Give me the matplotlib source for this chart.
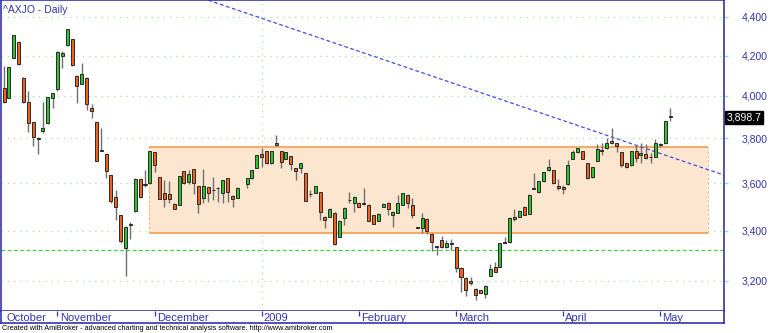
import numpy as np
import matplotlib
matplotlib.use("Agg")
import matplotlib.pyplot as plt
from matplotlib.ticker import FixedLocator, NullLocator, NullFormatter
import matplotlib.transforms as mtransforms

plt.rcParams['font.family'] = ['Liberation Sans', 'DejaVu Sans']

# ^AXJO daily bars, mid Oct 2008 .. early May 2009 (nan = empty holiday slot)
nan = np.nan
open_ = [4040, 3992, 4185, 4268, 4090, 3970, 3875, 3800, 3835, 3870,
         3992, 4032, 4200, 4253, 4284, 4100, 4060, 4090, 3944, 3876,
         3747, 3730, 3635, 3542, 3463, 3328, 3428, 3480, 3617, 3598,
         3600, 3738, 3627, 3558, 3554, 3512, 3508, 3653, 3604, 3662,
         3587, 3537, 3583, 3572, 3580, 3558, 3622, 3546, 3537, nan,
         3596, 3622, 3667, 3729, 3742, 3689, 3769, 3742, 3707, 3720,
         3667, 3667, 3644, 3554, 3558, 3562, 3458, 3458, 3475, 3376,
         3454, 3529, 3517, 3517, 3513, 3508, 3463, 3442, 3500, 3517,
         3463, 3475, 3508, 3550, 3508, 3413, 3413, 3450, 3388, 3336,
         3360, 3332, 3348, 3332, 3252, 3212, 3200, 3169, 3165, 3150,
         3220, 3256, 3256, 3352, 3352, 3458, 3458, 3500, 3471, 3579,
         3562, 3609, 3658, 3658, 3587, 3583, 3596, 3707, 3738, 3742,
         3689, 3627, 3698, 3747, 3756, 3787, 3778, 3738, 3689, 3680,
         3742, 3724, 3729, 3716, 3716, 3773, 3778, 3903]
high = [4145, 4140, 4305, 4272, 4092, 4025, 3877, 3806, 3970, 3995,
        4015, 4222, 4222, 4339, 4286, 4102, 4160, 4092, 3963, 3878,
        3850, 3735, 3637, 3571, 3465, 3418, 3437, 3622, 3619, 3658,
        3744, 3740, 3629, 3613, 3609, 3514, 3633, 3655, 3658, 3664,
        3589, 3662, 3585, 3627, 3583, 3615, 3624, 3548, 3585, nan,
        3624, 3660, 3726, 3756, 3745, 3745, 3814, 3745, 3740, 3722,
        3669, 3691, 3646, 3571, 3589, 3564, 3460, 3494, 3477, 3444,
        3498, 3562, 3544, 3519, 3579, 3510, 3465, 3473, 3515, 3519,
        3481, 3550, 3560, 3552, 3537, 3416, 3475, 3452, 3390, 3338,
        3380, 3364, 3368, 3334, 3254, 3214, 3216, 3171, 3167, 3183,
        3268, 3272, 3350, 3376, 3456, 3488, 3485, 3502, 3552, 3644,
        3611, 3651, 3707, 3660, 3618, 3592, 3702, 3747, 3758, 3744,
        3691, 3673, 3773, 3778, 3800, 3847, 3780, 3740, 3691, 3744,
        3769, 3778, 3773, 3733, 3796, 3778, 3882, 3941]
low = [3965, 3988, 4185, 4150, 3968, 3830, 3764, 3729, 3826, 3868,
       3940, 4025, 4135, 4251, 4148, 3965, 4058, 3932, 3895, 3696,
       3744, 3622, 3517, 3446, 3348, 3220, 3368, 3478, 3540, 3583,
       3598, 3649, 3531, 3500, 3517, 3490, 3506, 3598, 3598, 3554,
       3475, 3517, 3521, 3529, 3521, 3517, 3521, 3500, 3535, nan,
       3579, 3620, 3665, 3671, 3686, 3686, 3767, 3667, 3705, 3658,
       3613, 3644, 3522, 3542, 3556, 3446, 3413, 3456, 3342, 3374,
       3425, 3517, 3479, 3498, 3508, 3440, 3427, 3440, 3498, 3467,
       3417, 3473, 3506, 3496, 3454, 3409, 3392, 3388, 3316, 3300,
       3330, 3330, 3320, 3236, 3158, 3142, 3185, 3127, 3152, 3135,
       3218, 3234, 3254, 3348, 3350, 3438, 3456, 3465, 3469, 3575,
       3560, 3607, 3656, 3598, 3571, 3554, 3594, 3705, 3736, 3705,
       3620, 3625, 3696, 3724, 3754, 3776, 3738, 3671, 3669, 3678,
       3693, 3689, 3709, 3689, 3714, 3760, 3776, 3880]
close = [3970, 4140, 4305, 4155, 3970, 3872, 3805, 3796, 3849, 3993,
         4012, 4220, 4215, 4337, 4150, 4050, 4105, 3960, 3926, 3698,
         3745, 3653, 3525, 3500, 3356, 3416, 3422, 3620, 3542, 3592,
         3742, 3680, 3533, 3533, 3533, 3492, 3631, 3600, 3640, 3600,
         3512, 3587, 3558, 3570, 3579, 3613, 3562, 3533, 3579, nan,
         3622, 3658, 3724, 3716, 3689, 3742, 3778, 3693, 3738, 3685,
         3653, 3689, 3525, 3552, 3587, 3479, 3446, 3492, 3344, 3442,
         3496, 3527, 3542, 3500, 3511, 3442, 3429, 3471, 3513, 3492,
         3479, 3517, 3558, 3517, 3467, 3411, 3454, 3400, 3352, 3334,
         3332, 3348, 3346, 3252, 3216, 3165, 3192, 3146, 3154, 3181,
         3248, 3236, 3348, 3350, 3454, 3450, 3483, 3467, 3550, 3577,
         3609, 3649, 3671, 3600, 3579, 3575, 3680, 3738, 3756, 3707,
         3622, 3671, 3751, 3745, 3778, 3778, 3764, 3680, 3671, 3742,
         3711, 3733, 3711, 3714, 3778, 3771, 3880, 3898.7]

month_labels = ['October', 'November', 'December', '2009',
                'February', 'March', 'April', 'May']
month_start = [0, 11, 31, 53, 73, 93, 115, 135]
year_start = 53

price_ticks = [3200, 3400, 3600, 3800, 4000, 4200, 4400]
box_left, box_right = 29.8, 144.8
box_low, box_high = 3392, 3763
support_level = 3320
trend_x = [42.0, 148.1]
trend_y = [4490, 3636]
last_close = close[-1]

BLUE = '#3535a8'
GREEN = '#2fc22f'
ORANGE = '#f0621c'
GRID = '#a6e0a6'

fig = plt.figure(figsize=(7.7, 3.33), dpi=100)
ax = fig.add_axes([1 / 770, 22 / 333, 723 / 770, 311 / 333])
ax.set_yscale('log')
ax.set_ylim(3086, 4491)
ax.set_xlim(-0.62, 148.1)

# grid
for p in price_ticks:
    ax.axhline(p, color=GRID, lw=0.9, ls=(0, (1, 4)), zorder=0)
ax.axvline(year_start, color=GRID, lw=0.9, ls=(0, (1, 4)), zorder=0)

# trading range box
ax.fill_between([box_left, box_right], box_low, box_high,
                color='#fde6d0', lw=0, zorder=1)
ax.hlines([box_low, box_high], box_left, box_right, color='#f6a45e', lw=1.3, zorder=2)
ax.vlines([box_left, box_right], box_low, box_high, color='#f6b27a',
          lw=0.8, ls=(0, (2, 2)), zorder=2)

# support and trend lines
ax.axhline(support_level, color='#3ad83a', lw=0.9, ls=(0, (3, 2)), zorder=2)
ax.plot(trend_x, trend_y, color='#4a4ae6', lw=0.9, ls=(0, (3, 2)), zorder=2)

# candles
x = np.arange(len(close))
o = np.array(open_, dtype=float)
h = np.array(high, dtype=float)
l = np.array(low, dtype=float)
c = np.array(close, dtype=float)
ok = ~np.isnan(c)
ax.vlines(x[ok], l[ok], h[ok], color='#707070', lw=1.0, zorder=3)
diff = c - o
cols = []
for d in diff[ok]:
    if abs(d) < 3:
        cols.append('#111111')
    elif d > 0:
        cols.append(GREEN)
    else:
        cols.append(ORANGE)
bottoms = np.minimum(o, c)[ok]
heights = np.maximum(np.abs(diff[ok]), 2.5)
ax.bar(x[ok], heights, bottom=bottoms, width=0.62, color=cols,
       edgecolor='#2a2a2a', linewidth=0.7, zorder=4)

# axes styling
for s in ax.spines.values():
    s.set_color(BLUE)
    s.set_linewidth(1.2)
ax.set_xticks([])
ax.yaxis.tick_right()
ax.yaxis.set_major_locator(FixedLocator(price_ticks))
ax.yaxis.set_minor_locator(NullLocator())
ax.yaxis.set_minor_formatter(NullFormatter())
ax.set_yticklabels([f"{p:,}" for p in price_ticks])
ax.tick_params(axis='y', length=3, width=1, color=GRID, pad=10,
               labelsize=7.5, labelcolor=BLUE)

# last price marker
trans = mtransforms.blended_transform_factory(ax.transAxes, ax.transData)
ax.text(1.003, last_close, f"{last_close:,.1f}", transform=trans,
        ha='left', va='center', color='white', fontsize=7.5,
        bbox=dict(boxstyle='square,pad=0.15', fc='black', ec='black'))

ax.text(0.003, 0.985, '^AXJO - Daily', transform=ax.transAxes,
        ha='left', va='top', color=BLUE, fontsize=7.5)

# date band
bx = fig.add_axes([1 / 770, 10 / 333, 723 / 770, 12 / 333])
bx.set_xlim(ax.get_xlim())
bx.set_ylim(0, 1)
bx.set_xticks([])
bx.set_yticks([])
for s in bx.spines.values():
    s.set_color(BLUE)
    s.set_linewidth(1.2)
bx.spines['top'].set_visible(False)
bx.vlines(month_start[1:], 0.55, 1.0, color=BLUE, lw=0.9)
for pos, lab in zip(month_start, month_labels):
    bx.text(pos + 0.45, 0.45, lab, ha='left', va='center',
            color=BLUE, fontsize=8)

fig.text(2 / 770, 5 / 333,
         'Created with AmiBroker - advanced charting and technical analysis '
         'software. http://www.amibroker.com',
         ha='left', va='center', fontsize=5.2, color='black')

fig.savefig('out.png', dpi=100)
